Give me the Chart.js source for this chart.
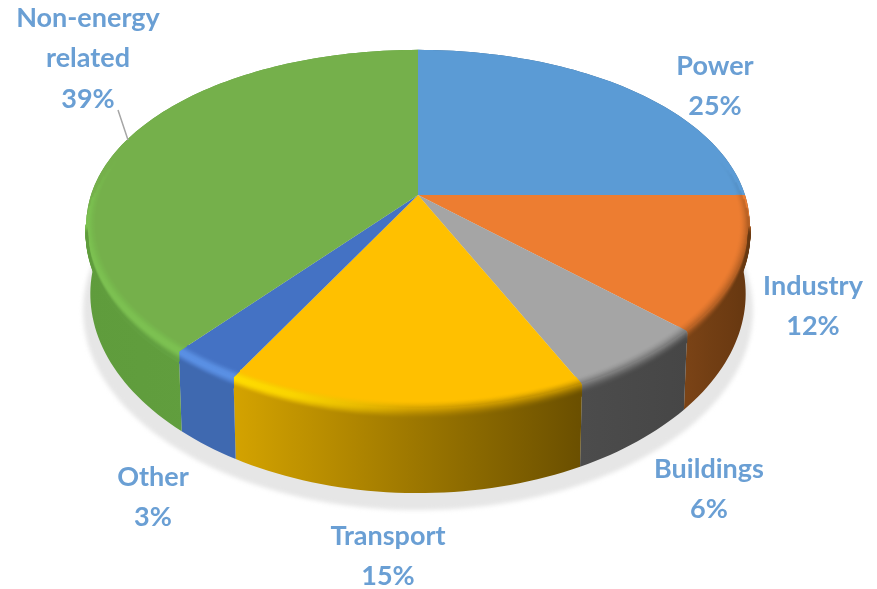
<!DOCTYPE html>
<html>
<head>
<meta charset="utf-8">
<style>
  html, body { margin: 0; padding: 0; background: #fff; overflow: hidden; }
  #wrap { position: relative; width: 877px; height: 589px; }
  canvas { filter: blur(0.5px); }
</style>
<script src="https://cdn.jsdelivr.net/npm/chart.js@4/dist/chart.umd.min.js"></script>
</head>
<body>
<div id="wrap"><canvas id="pie3d" width="877" height="589"></canvas></div>
<script>
const categories = ['Power', 'Industry', 'Buildings', 'Transport', 'Other', ['Non-energy', 'related']];
const shares = [25, 12, 6, 15, 3, 39];
const faceColors = ['#5b9bd5', '#ed7d31', '#a5a5a5', '#ffc000', '#4472c4', '#75b04b'];

// side wall colours [left, right] and rim highlight per slice
const wallColors = [['#3d6a90', '#3d6a90'], ['#7a4316', '#663710'], ['#4c4c4c', '#464646'], ['#d4a300', '#6a4f00'], ['#3f69b0', '#3f69b0'], ['#5f9c3c', '#64a242']];
const rimColors = ['#5b9bd5', '#ed7d31', '#a5a5a5', '#ffdc00', '#5a90e4', '#7cc151'];

// label text centres, same order as categories
const labelSpots = [[715, 66], [813, 286], [709, 469], [388, 536], [153, 477], [88, 18]];
const LINE_H = 40.5;

// look of the tilted disc
const STRETCH = 327 / 173, KX = 0.167, KY = 0.192;

function hex(c) { return [1, 3, 5].map(i => parseInt(c.substr(i, 2), 16)); }
function mix(a, b, t) { return a.map((v, i) => v + (b[i] - v) * t); }
function css(c) { return `rgb(${c.map(Math.round).join(',')})`; }

// angle on the disc -> page position, depth is how far down the wall (0..1)
function project(arc, ang, r, depth) {
  const a = ang + Math.PI / 2;
  const u = Math.sin(a) * r, v = -Math.cos(a) * r;
  const R = arc.outerRadius;
  const x = STRETCH * R * u / (1 - KX * v);
  const y = R * v / (1 - KY * v);
  const wall = (66 + 18 * v);
  return {
    x: arc.x + x * (1 - 0.012 * depth),
    y: arc.y + y + wall * depth,
    v
  };
}

function edge(arc, r, depth) {
  const n = Math.max(8, Math.ceil((arc.endAngle - arc.startAngle) * 40));
  const out = [];
  for (let i = 0; i <= n; i++) {
    out.push(project(arc, arc.startAngle + (arc.endAngle - arc.startAngle) * i / n, r, depth));
  }
  return out;
}

function trace(ctx, pts, first) {
  pts.forEach((p, i) => (i === 0 && first) ? ctx.moveTo(p.x, p.y) : ctx.lineTo(p.x, p.y));
}

function drawShadow(ctx, arcs) {
  ctx.save();
  ctx.filter = 'blur(2px)';
  ctx.fillStyle = '#e6e6e6';
  ctx.beginPath();
  arcs.forEach((arc, i) => {
    edge(arc, 1, 1).forEach((p, j) => {
      const x = arc.x + (p.x - arc.x) * 1.022;
      const y = p.y + 17;
      if (i === 0 && j === 0) ctx.moveTo(x, y); else ctx.lineTo(x, y);
    });
  });
  ctx.closePath();
  ctx.fill();
  ctx.restore();
}

function xGradient(ctx, pts, colorAt) {
  const xs = pts.map(p => p.x);
  const x0 = Math.min(...xs), x1 = Math.max(...xs) + 0.01;
  const g = ctx.createLinearGradient(x0, 0, x1, 0);
  for (let i = 0; i <= 6; i++) {
    const f = i / 6;
    g.addColorStop(f, css(colorAt(x0 + (x1 - x0) * f, f)));
  }
  return g;
}

function drawWall(ctx, arc, i) {
  const top = edge(arc, 1, 0), bottom = edge(arc, 1, 1).reverse();
  const L = hex(wallColors[i][0]), Rt = hex(wallColors[i][1]);
  ctx.fillStyle = xGradient(ctx, top, (x, f) => mix(L, Rt, f));
  ctx.beginPath();
  trace(ctx, top, true);
  trace(ctx, bottom, false);
  ctx.closePath();
  ctx.fill();
}

function drawFace(ctx, arc, i) {
  ctx.fillStyle = faceColors[i];
  ctx.beginPath();
  ctx.moveTo(arc.x, arc.y);
  trace(ctx, edge(arc, 1, 0), false);
  ctx.closePath();
  ctx.fill();
}

// soft rounded rim between the face and the wall
function drawRim(ctx, arc, i) {
  const face = hex(faceColors[i]), rim = hex(rimColors[i]);
  const L = hex(wallColors[i][0]), Rt = hex(wallColors[i][1]);
  ctx.lineWidth = 2.5;
  for (let d = -9; d <= 11; d++) {
    const f = (d + 9) / 20;
    const t = f * f * (3 - 2 * f);
    const bump = 4 * t * (1 - t);
    const r = d <= 0 ? 1 + (d - 1) * 0.003 : 1;
    const drop = d > 0 ? d / 84 : 0;
    // tapers in towards the sides, below the rim only where the wall shows
    const minV = d > 0 ? 0.16 : -0.3 + (d + 9) / 9 * 0.4;
    const pts = edge(arc, r, drop).filter(p => p.v > minV);
    if (pts.length < 2) continue;
    ctx.strokeStyle = xGradient(ctx, pts, (x, fx) => {
      const left = Math.max(0, Math.min(1, (418 - x) / 150));
      return mix(mix(face, mix(L, Rt, fx), t), rim, bump * left);
    });
    ctx.beginPath();
    trace(ctx, pts, true);
    ctx.stroke();
  }
}

function drawLabels(ctx, arcs) {
  ctx.save();
  ctx.font = '700 27px Lato, "Open Sans", sans-serif';
  ctx.fillStyle = '#6a9fd4';
  ctx.textAlign = 'center';
  ctx.textBaseline = 'middle';
  arcs.forEach((arc, i) => {
    const lines = [].concat(categories[i], shares[i] + '%');
    lines.forEach((txt, k) => ctx.fillText(txt, labelSpots[i][0], labelSpots[i][1] + k * LINE_H));
  });
  // leader line for the biggest slice
  ctx.strokeStyle = '#a6a6a6';
  ctx.lineWidth = 1.5;
  ctx.beginPath();
  ctx.moveTo(118, 110);
  ctx.lineTo(128, 140);
  ctx.stroke();
  ctx.restore();
}

const tiltedPie = {
  id: 'tiltedPie',
  beforeDatasetsDraw(chart) {
    const ctx = chart.ctx;
    const arcs = chart.getDatasetMeta(0).data;
    drawShadow(ctx, arcs);
    arcs.forEach((arc, i) => drawWall(ctx, arc, i));
    arcs.forEach((arc, i) => drawFace(ctx, arc, i));
    arcs.forEach((arc, i) => drawRim(ctx, arc, i));
    drawLabels(ctx, arcs);
    return false;
  }
};

new Chart(document.getElementById('pie3d'), {
  type: 'pie',
  data: { labels: categories, datasets: [{ data: shares, backgroundColor: faceColors, borderWidth: 0 }] },
  options: {
    responsive: false,
    animation: false,
    layout: { padding: { left: 0, right: 41, top: 22, bottom: 221 } },
    plugins: { legend: { display: false }, tooltip: { enabled: false } }
  },
  plugins: [tiltedPie]
});
</script>
</body>
</html>
